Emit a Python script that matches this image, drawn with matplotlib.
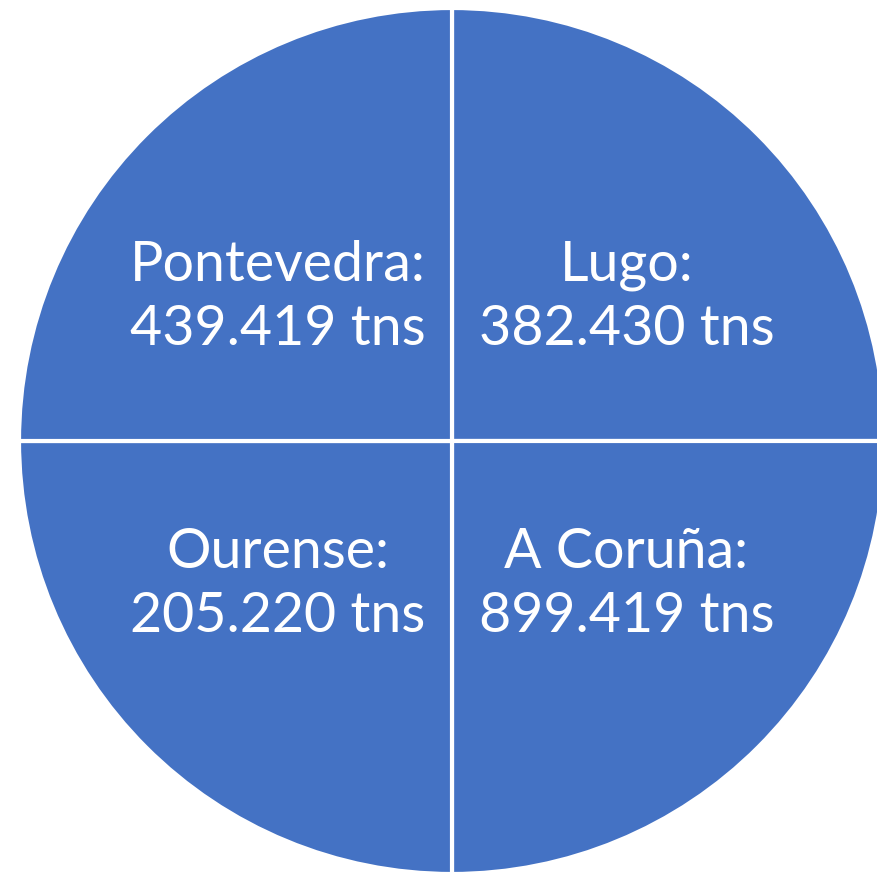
import numpy as np
import matplotlib
matplotlib.use("Agg")
import matplotlib.pyplot as plt

# provinces, clockwise from the top-right quadrant
provinces = ["Lugo", "A Coruña", "Ourense", "Pontevedra"]
tonnes = [382430, 899419, 205220, 439419]
# the picture draws four equal quadrants, not shares of the total
slice_share = [1, 1, 1, 1]

BLUE = "#4472C4"


def fmt_tns(v):
    return f"{v:,}".replace(",", ".") + " tns"


labels = [f"{p}:\n{fmt_tns(v)}" for p, v in zip(provinces, tonnes)]

W, H = 877, 875
fig = plt.figure(figsize=(W / 100, H / 100), dpi=100)
ax = fig.add_axes([0, 0, 1, 1])

# circle centre / radius in pixels
cx, cy, r = 452, 441, 433

wedges, texts = ax.pie(
    slice_share,
    labels=labels,
    startangle=90,
    counterclock=False,
    colors=[BLUE] * 4,
    wedgeprops=dict(edgecolor="white", linewidth=3),
    labeldistance=0.52,
    textprops=dict(color="white", fontsize=40, family=["Lato", "DejaVu Sans"],
                   ha="center", va="center", linespacing=1.32),
    frame=True,
)
ax.axis("off")
ax.set_aspect("auto")
ax.set_xlim(-cx / r, (W - cx) / r)
ax.set_ylim(-(H - cy) / r, cy / r)

# labels sit a bit wider than tall in the reference
for w, t in zip(wedges, texts):
    ang = np.deg2rad((w.theta1 + w.theta2) / 2)
    t.set_position((0.57 * np.cos(ang), 0.47 * np.sin(ang)))
    t.set_ha("center")
    t.set_va("center")
    t.set_multialignment("center")

fig.savefig("out.png", dpi=100)
